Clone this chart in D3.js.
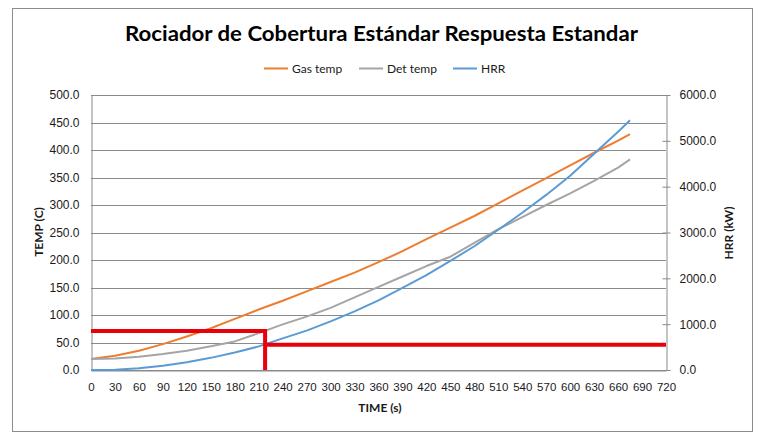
<!DOCTYPE html>
<html>
<head>
<meta charset="utf-8">
<script src="https://cdn.jsdelivr.net/npm/d3@7"></script>
<style>
  html, body { margin: 0; padding: 0; background: #fff; }
  svg { display: block; font-family: Lato, "Open Sans", sans-serif; }
</style>
</head>
<body>
<div id="chart"></div>
<script>
// time in seconds
const times   = [0, 30, 60, 90, 120, 150, 180, 210, 240, 270, 300, 330, 360, 390, 420, 450, 480, 510, 540, 570, 600, 630, 660, 675];
const gasTemp = [20, 26, 35, 47, 61, 76, 93, 110, 126, 143, 160, 177, 196, 216, 238, 259, 280, 303, 326, 349, 372, 395, 417, 429];
const detTemp = [20, 21, 24, 29, 35, 43, 52, 67, 83, 97, 113, 132, 151, 170, 189, 206, 231, 256, 278, 300, 321, 344, 368, 383];
const hrr     = [0, 8, 40, 95, 170, 265, 380, 515, 690, 860, 1060, 1280, 1520, 1790, 2070, 2380, 2700, 3060, 3430, 3820, 4240, 4720, 5200, 5450];

// sprinkler activation markers
const actTime = 218;
const actTemp = 71;
const actHrr = 550;

const xTicks = d3.range(0, 721, 30);
const tempTicks = d3.range(0, 501, 50);
const hrrTicks = d3.range(0, 6001, 1000);

const title = 'Rociador de Cobertura Estándar Respuesta Estandar';
const seriesNames = ['Gas temp', 'Det temp', 'HRR'];
const seriesColors = ['#ED7D31', '#A5A5A5', '#5B9BD5'];

const W = 763, H = 442;
const plot = { left: 91, right: 666, top: 95, bottom: 370 };

const svg = d3.select('#chart').append('svg')
  .attr('width', W)
  .attr('height', H);

// outer chart border
svg.append('rect')
  .attr('x', 12.5).attr('y', 8.5)
  .attr('width', 740).attr('height', 423)
  .attr('fill', '#fff')
  .attr('stroke', '#8c8c8c')
  .attr('stroke-width', 1);

const x = d3.scaleLinear().domain([0, 720]).range([plot.left, plot.right]);
const yT = d3.scaleLinear().domain([0, 500]).range([plot.bottom, plot.top]);
const yH = d3.scaleLinear().domain([0, 6000]).range([plot.bottom, plot.top]);

// gridlines
svg.append('g')
  .selectAll('line')
  .data(tempTicks)
  .enter()
  .append('line')
  .attr('x1', plot.left)
  .attr('x2', plot.right)
  .attr('y1', d => Math.round(yT(d)) + 0.5)
  .attr('y2', d => Math.round(yT(d)) + 0.5)
  .attr('stroke', '#8a8a8a')
  .attr('stroke-width', 1);

// left axis
const leftAxis = svg.append('g')
  .attr('transform', `translate(${plot.left + 0.5},0)`)
  .call(d3.axisLeft(yT).tickValues(tempTicks).tickSize(0).tickPadding(12).tickFormat(d3.format('.1f')));
leftAxis.select('.domain').attr('stroke', '#8a8a8a');
leftAxis.selectAll('text').style('font-size', '12px').attr('fill', '#1a1a1a');

// right axis
const rightAxis = svg.append('g')
  .attr('transform', `translate(${plot.right + 0.5},0)`)
  .call(d3.axisRight(yH).tickValues(hrrTicks).tickSizeInner(4).tickSizeOuter(0).tickPadding(9).tickFormat(d3.format('.1f')));
rightAxis.select('.domain').attr('stroke', '#8a8a8a');
rightAxis.selectAll('.tick line').attr('x1', -4).attr('stroke', '#8a8a8a');
rightAxis.selectAll('text').style('font-size', '12px').attr('fill', '#1a1a1a');

// bottom axis
const bottomAxis = svg.append('g')
  .attr('transform', `translate(0,${plot.bottom + 0.5})`)
  .call(d3.axisBottom(x).tickValues(xTicks).tickSize(0).tickPadding(12));
bottomAxis.select('.domain').attr('stroke', '#8a8a8a');
bottomAxis.selectAll('text').style('font-size', '11.5px').attr('fill', '#1a1a1a');

// series
const rows = times.map((t, i) => ({ t, gas: gasTemp[i], det: detTemp[i], hrr: hrr[i] }));
const lineGas = d3.line().x(d => x(d.t)).y(d => yT(d.gas));
const lineDet = d3.line().x(d => x(d.t)).y(d => yT(d.det));
const lineHrr = d3.line().x(d => x(d.t)).y(d => yH(d.hrr));

[lineGas, lineDet, lineHrr].forEach((ln, i) => {
  svg.append('path')
    .datum(rows)
    .attr('fill', 'none')
    .attr('stroke', seriesColors[i])
    .attr('stroke-width', 2)
    .attr('stroke-linejoin', 'round')
    .attr('d', ln);
});

// activation markers
const red = '#E8000B';
svg.append('path')
  .attr('fill', 'none')
  .attr('stroke', red)
  .attr('stroke-width', 4)
  .attr('d', d3.line()([[x(0), yT(actTemp)], [x(actTime), yT(actTemp)], [x(actTime), yT(0)]]));
svg.append('path')
  .attr('fill', 'none')
  .attr('stroke', red)
  .attr('stroke-width', 4)
  .attr('d', d3.line()([[x(actTime), yH(actHrr)], [x(720), yH(actHrr)]]));

// title
svg.append('text')
  .attr('x', 381.5)
  .attr('y', 41)
  .attr('text-anchor', 'middle')
  .attr('textLength', 513)
  .attr('lengthAdjust', 'spacingAndGlyphs')
  .style('font-size', '21px')
  .style('font-weight', 'bold')
  .attr('fill', '#000')
  .text(title);

// legend
const legendX = [264, 359, 453];
const legend = svg.append('g');
seriesNames.forEach((name, i) => {
  legend.append('line')
    .attr('x1', legendX[i]).attr('x2', legendX[i] + 24)
    .attr('y1', 68.5).attr('y2', 68.5)
    .attr('stroke', seriesColors[i])
    .attr('stroke-width', 2);
  legend.append('text')
    .attr('x', legendX[i] + 28)
    .attr('y', 72.5)
    .style('font-size', '12px')
    .attr('fill', '#1a1a1a')
    .text(name);
});

// axis titles
svg.append('text')
  .attr('x', 380).attr('y', 412)
  .attr('text-anchor', 'middle')
  .style('font-size', '12px')
  .style('font-weight', 'bold')
  .attr('fill', '#1a1a1a')
  .text('TIME (s)');

svg.append('text')
  .attr('transform', 'translate(43,232) rotate(-90)')
  .attr('text-anchor', 'middle')
  .style('font-size', '12px')
  .style('font-weight', 'bold')
  .attr('fill', '#1a1a1a')
  .text('TEMP (C)');

svg.append('text')
  .attr('transform', 'translate(733,233) rotate(-90)')
  .attr('text-anchor', 'middle')
  .style('font-size', '12px')
  .style('font-weight', 'bold')
  .attr('fill', '#1a1a1a')
  .text('HRR (kW)');
</script>
</body>
</html>
